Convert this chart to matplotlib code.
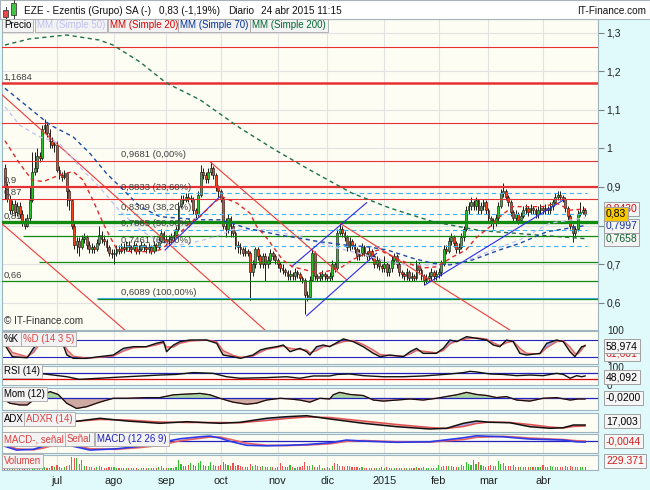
import numpy as np
import pandas as pd
import matplotlib
matplotlib.use('Agg')
import matplotlib.pyplot as plt
from matplotlib.patches import Rectangle
from matplotlib.transforms import blended_transform_factory

plt.rcParams['font.family'] = ['Liberation Sans', 'DejaVu Sans']

W, H = 650, 490

# ---------------- datos ----------------
dates = pd.bdate_range('2014-06-02', '2015-04-24')
month_lbl = ['jul', 'ago', 'sep', 'oct', 'nov', 'dic', '2015', 'feb', 'mar', 'abr']

close_jun = [0.90, 0.87, 0.84, 0.855, 0.835, 0.85, 0.83, 0.81, 0.80, 0.82, 0.865, 0.94, 0.95, 0.98, 0.975, 1.05, 1.06, 1.04, 1.02, 1.01, 1.01]
close_jul = [0.945, 0.93, 0.925, 0.935, 0.89, 0.865, 0.80, 0.75, 0.76, 0.745, 0.765, 0.77, 0.75, 0.74, 0.745, 0.74, 0.755, 0.775, 0.765, 0.76, 0.745, 0.73, 0.725]
close_ago = [0.73, 0.74, 0.735, 0.745, 0.74, 0.75, 0.745, 0.74, 0.75, 0.735, 0.74, 0.75, 0.745, 0.74, 0.745, 0.735, 0.75, 0.745, 0.76, 0.78, 0.765]
close_sep = [0.76, 0.765, 0.77, 0.775, 0.79, 0.85, 0.87, 0.865, 0.875, 0.87, 0.87, 0.84, 0.83, 0.88, 0.94, 0.93, 0.92, 0.94, 0.95, 0.93, 0.90, 0.89]
close_oct = [0.87, 0.80, 0.79, 0.82, 0.80, 0.78, 0.75, 0.745, 0.74, 0.73, 0.735, 0.73, 0.68, 0.70, 0.74, 0.72, 0.70, 0.72, 0.70, 0.71, 0.73, 0.72, 0.71]
close_nov = [0.70, 0.69, 0.685, 0.68, 0.67, 0.675, 0.67, 0.68, 0.675, 0.665, 0.66, 0.62, 0.615, 0.66, 0.73, 0.67, 0.665, 0.67, 0.675, 0.67]
close_dic = [0.665, 0.67, 0.70, 0.69, 0.78, 0.79, 0.78, 0.77, 0.745, 0.76, 0.75, 0.74, 0.72, 0.73, 0.745, 0.73, 0.72, 0.735, 0.72, 0.70, 0.71, 0.695, 0.69]
close_ene = [0.70, 0.68, 0.69, 0.71, 0.72, 0.70, 0.68, 0.675, 0.67, 0.68, 0.665, 0.67, 0.665, 0.70, 0.685, 0.67, 0.66, 0.665, 0.67, 0.68, 0.67, 0.675]
close_feb = [0.68, 0.70, 0.74, 0.735, 0.76, 0.77, 0.755, 0.74, 0.745, 0.77, 0.79, 0.84, 0.85, 0.86, 0.85, 0.865, 0.84, 0.85, 0.86, 0.84]
close_mar = [0.82, 0.815, 0.81, 0.82, 0.85, 0.885, 0.89, 0.875, 0.86, 0.835, 0.82, 0.83, 0.815, 0.825, 0.84, 0.845, 0.835, 0.845, 0.84, 0.83, 0.84, 0.845]
close_abr = [0.84, 0.845, 0.84, 0.85, 0.86, 0.875, 0.88, 0.875, 0.87, 0.845, 0.825, 0.80, 0.78, 0.79, 0.83, 0.835, 0.84, 0.83]
first_open = 0.95

hi_jun = [0.96, 0.91, 0.88, 0.865, 0.865, 0.86, 0.86, 0.84, 0.82, 0.83, 0.90, 0.99, 0.99, 1.00, 0.99, 1.06, 1.075, 1.065, 1.05, 1.03, 1.02]
lo_jun = [0.87, 0.86, 0.83, 0.83, 0.825, 0.825, 0.82, 0.80, 0.79, 0.795, 0.81, 0.86, 0.93, 0.94, 0.965, 0.97, 1.04, 1.03, 1.00, 1.00, 0.99]
hi_jul = [1.02, 0.955, 0.94, 0.945, 0.94, 0.895, 0.87, 0.81, 0.77, 0.77, 0.775, 0.78, 0.775, 0.76, 0.755, 0.75, 0.765, 0.80, 0.785, 0.775, 0.765, 0.75, 0.74]
lo_jul = [0.94, 0.92, 0.915, 0.92, 0.85, 0.84, 0.79, 0.74, 0.73, 0.72, 0.74, 0.755, 0.74, 0.73, 0.73, 0.73, 0.735, 0.75, 0.755, 0.75, 0.735, 0.72, 0.715]
hi_ago = [0.74, 0.75, 0.75, 0.755, 0.755, 0.76, 0.76, 0.75, 0.76, 0.755, 0.75, 0.76, 0.755, 0.75, 0.755, 0.75, 0.76, 0.755, 0.77, 0.79, 0.785]
lo_ago = [0.70, 0.72, 0.725, 0.73, 0.73, 0.735, 0.735, 0.73, 0.735, 0.725, 0.725, 0.735, 0.735, 0.73, 0.73, 0.725, 0.73, 0.735, 0.74, 0.755, 0.755]
hi_sep = [0.775, 0.775, 0.78, 0.785, 0.80, 0.86, 0.88, 0.88, 0.885, 0.885, 0.88, 0.875, 0.845, 0.89, 0.957, 0.95, 0.94, 0.95, 0.965, 0.955, 0.935, 0.905]
lo_sep = [0.75, 0.75, 0.755, 0.76, 0.77, 0.785, 0.845, 0.855, 0.86, 0.86, 0.86, 0.83, 0.82, 0.825, 0.875, 0.92, 0.91, 0.91, 0.93, 0.92, 0.89, 0.875]
hi_oct = [0.895, 0.875, 0.82, 0.83, 0.825, 0.81, 0.785, 0.76, 0.755, 0.745, 0.745, 0.74, 0.735, 0.71, 0.745, 0.745, 0.725, 0.73, 0.73, 0.72, 0.74, 0.735, 0.725]
lo_oct = [0.86, 0.79, 0.77, 0.78, 0.77, 0.77, 0.74, 0.73, 0.725, 0.72, 0.72, 0.72, 0.607, 0.67, 0.69, 0.71, 0.69, 0.69, 0.655, 0.69, 0.70, 0.71, 0.70]
hi_nov = [0.715, 0.705, 0.70, 0.69, 0.685, 0.685, 0.68, 0.69, 0.685, 0.68, 0.67, 0.665, 0.63, 0.67, 0.74, 0.735, 0.675, 0.68, 0.685, 0.68]
lo_nov = [0.69, 0.68, 0.675, 0.67, 0.66, 0.66, 0.66, 0.66, 0.665, 0.655, 0.65, 0.57, 0.605, 0.61, 0.655, 0.66, 0.655, 0.655, 0.66, 0.66]
hi_dic = [0.675, 0.68, 0.71, 0.705, 0.79, 0.806, 0.80, 0.785, 0.775, 0.77, 0.765, 0.755, 0.745, 0.74, 0.755, 0.75, 0.735, 0.745, 0.74, 0.725, 0.72, 0.715, 0.70]
lo_dic = [0.655, 0.655, 0.66, 0.68, 0.685, 0.775, 0.77, 0.76, 0.735, 0.735, 0.74, 0.73, 0.71, 0.71, 0.72, 0.72, 0.71, 0.71, 0.71, 0.69, 0.69, 0.685, 0.68]
hi_ene = [0.72, 0.705, 0.70, 0.72, 0.73, 0.725, 0.705, 0.685, 0.68, 0.69, 0.685, 0.68, 0.675, 0.71, 0.705, 0.69, 0.675, 0.675, 0.68, 0.69, 0.685, 0.685]
lo_ene = [0.68, 0.67, 0.67, 0.68, 0.70, 0.69, 0.67, 0.665, 0.66, 0.66, 0.655, 0.655, 0.655, 0.66, 0.675, 0.66, 0.646, 0.65, 0.655, 0.66, 0.66, 0.66]
hi_feb = [0.69, 0.71, 0.75, 0.75, 0.77, 0.78, 0.775, 0.76, 0.755, 0.78, 0.80, 0.85, 0.86, 0.875, 0.865, 0.875, 0.87, 0.86, 0.87, 0.865]
lo_feb = [0.665, 0.67, 0.695, 0.725, 0.73, 0.75, 0.745, 0.73, 0.73, 0.74, 0.76, 0.785, 0.83, 0.84, 0.84, 0.84, 0.83, 0.83, 0.84, 0.83]
hi_mar = [0.845, 0.825, 0.82, 0.83, 0.86, 0.895, 0.91, 0.895, 0.88, 0.865, 0.84, 0.84, 0.835, 0.835, 0.85, 0.855, 0.85, 0.855, 0.85, 0.845, 0.85, 0.855]
lo_mar = [0.81, 0.80, 0.79, 0.80, 0.81, 0.845, 0.875, 0.865, 0.85, 0.825, 0.81, 0.81, 0.805, 0.81, 0.82, 0.83, 0.825, 0.83, 0.83, 0.82, 0.82, 0.83]
hi_abr = [0.85, 0.855, 0.85, 0.86, 0.87, 0.885, 0.89, 0.89, 0.88, 0.875, 0.85, 0.83, 0.805, 0.80, 0.84, 0.86, 0.85, 0.845]
lo_abr = [0.83, 0.83, 0.83, 0.83, 0.84, 0.855, 0.865, 0.865, 0.86, 0.835, 0.815, 0.79, 0.758, 0.77, 0.785, 0.825, 0.83, 0.825]

# volumen (miles de acciones)
vol_jun = [180, 150, 120, 140, 100, 130, 110, 160, 140, 120, 260, 380, 250, 200, 280, 220, 260, 180, 160, 300, 200]
vol_jul = [420, 220, 180, 200, 350, 380, 1150, 1050, 980, 500, 830, 350, 300, 260, 200, 180, 220, 300, 200, 180, 160, 220, 200]
vol_ago = [250, 160, 130, 120, 150, 110, 100, 130, 120, 100, 90, 140, 110, 100, 120, 130, 150, 120, 200, 300, 180]
vol_sep = [150, 160, 140, 180, 260, 840, 500, 300, 350, 420, 560, 380, 320, 600, 780, 400, 300, 350, 650, 400, 350, 300]
vol_oct = [420, 700, 450, 380, 300, 550, 350, 420, 300, 250, 200, 230, 500, 350, 400, 300, 250, 280, 200, 220, 260, 200, 180]
vol_nov = [250, 560, 300, 220, 260, 400, 200, 180, 220, 250, 300, 700, 350, 300, 420, 250, 200, 420, 180, 160]
vol_dic = [200, 180, 300, 560, 450, 330, 300, 250, 280, 330, 250, 200, 220, 180, 200, 160, 150, 170, 140, 150, 130, 120, 200]
vol_ene = [180, 200, 150, 170, 160, 180, 150, 140, 130, 150, 160, 140, 150, 200, 170, 160, 200, 150, 140, 130, 150, 160]
vol_feb = [380, 250, 300, 280, 350, 300, 250, 220, 260, 420, 350, 700, 500, 400, 840, 450, 700, 380, 300, 250]
vol_mar = [300, 420, 280, 300, 780, 500, 540, 350, 300, 280, 380, 250, 220, 200, 250, 230, 200, 220, 190, 200, 210, 230]
vol_abr = [380, 250, 200, 330, 250, 240, 260, 230, 250, 300, 260, 280, 250, 250, 230, 220, 200, 229]

# medias moviles (muestras leidas: indice de sesion, valor)
sma20_idx = [0, 6, 11, 15.5, 22, 27.5, 31.5, 35.5, 39.6, 42.4, 45, 50, 59, 62.5, 66.6, 70.6, 74.6, 78.7, 84, 87.5, 93.6, 98.8, 101.6, 105.7, 112, 116, 127, 132, 136, 140, 146, 151, 159, 164.6, 168.6, 174, 180.7, 186, 190, 195.6, 199.6, 204.9, 211.7, 217, 222.6, 227.9, 234]
sma20_val = [1.02, 0.96, 0.918, 0.914, 0.931, 0.94, 0.918, 0.866, 0.806, 0.771, 0.74, 0.733, 0.732, 0.737, 0.755, 0.78, 0.807, 0.823, 0.858, 0.875, 0.858, 0.832, 0.797, 0.767, 0.711, 0.693, 0.676, 0.685, 0.693, 0.711, 0.729, 0.737, 0.711, 0.698, 0.690, 0.693, 0.719, 0.737, 0.768, 0.797, 0.823, 0.849, 0.849, 0.849, 0.858, 0.840, 0.843]
sma50_idx = [0, 6, 14, 22, 30, 38, 46, 54.5, 62.5, 70.6, 78.7, 86.7, 92, 105.7, 119, 132, 143, 154, 162, 172.6, 183.5, 197, 207.7, 219.8, 234]
sma50_val = [1.108, 1.06, 1.03, 1.013, 0.953, 0.901, 0.84, 0.789, 0.757, 0.75, 0.76, 0.775, 0.79, 0.789, 0.771, 0.745, 0.728, 0.706, 0.698, 0.698, 0.702, 0.737, 0.763, 0.806, 0.82]
sma70_idx = [0, 18.2, 27.5, 34.3, 41, 46.4, 54.5, 62.5, 70.6, 78.7, 86.7, 92, 97.6, 111, 119, 127, 138, 146, 154, 164.6, 172.6, 179.5, 188.7, 199.6, 207.7, 218.6, 234]
sma70_val = [1.156, 1.061, 1.03, 0.987, 0.935, 0.901, 0.849, 0.823, 0.819, 0.815, 0.815, 0.805, 0.793, 0.775, 0.767, 0.758, 0.749, 0.745, 0.737, 0.715, 0.702, 0.698, 0.711, 0.737, 0.754, 0.784, 0.80]
sma200_idx = [0, 10, 25, 38, 43.6, 54.5, 65, 78.7, 94.8, 109, 123, 140, 155, 172.6, 191.6, 207.7, 223.8, 234]
sma200_val = [1.268, 1.284, 1.294, 1.281, 1.268, 1.224, 1.170, 1.126, 1.053, 0.996, 0.944, 0.884, 0.846, 0.810, 0.787, 0.779, 0.771, 0.766]

# niveles horizontales y lineas de tendencia
red_lvls = [1.262, 1.1684, 1.065, 0.9681, 0.90, 0.87]
red_lw = [0.8, 1.8, 0.8, 0.8, 1.6, 0.8]
green_lvls = [0.808, 0.773, 0.705, 0.655, 0.6089]
green_from = [-2, 7.3, 13.75, -2, 37.1]
green_lw = [2.4, 0.9, 0.9, 0.9, 0.9]
fib_lvls = [0.8833, 0.8309, 0.7885, 0.7461]
fib_lbl = ['0,9681 (0,00%)', '0,8833 (23,60%)', '0,8309 (38,20%)', '0,7885 (50,00%)', '0,7461 (61,80%)', '0,6089 (100,00%)']
fib_lbl_y = [0.9681, 0.8833, 0.8309, 0.7885, 0.7461, 0.6089]
lvl_lbl = ['1,1684', '0,9', '0,87', '0,81', '0,66']
lvl_lbl_y = [1.1684, 0.90, 0.87, 0.808, 0.655]
red_trend = [((-1.98, 1.1437), (104.9, 0.529)), ((-1.98, 0.809), (48.4, 0.529)),
             ((82.7, 0.9656), (137.9, 0.6589)), ((135.1, 0.806), (203.7, 0.529))]
blue_trend = [((64.6, 0.7366), (86.7, 0.8748)), ((115.6, 0.6933), (145.9, 0.8593)),
              ((121.7, 0.566), (149.9, 0.728)), ((169.4, 0.646), (225.2, 0.866))]

# estocastico %K / %D
stoch_idx = [0, 3, 9, 11.5, 14, 19.5, 23, 25, 27.6, 33, 38, 43.7, 47.8, 51.8, 57, 61, 64, 65.2, 68, 70.6, 74.6, 81.3, 85.4, 88, 92, 95, 100, 103, 105.5, 109.6, 112.3, 115, 119, 121.7, 123, 125.7, 128.4, 131, 136.5, 140.5, 144.5, 148.6, 151.3, 155.3, 160.7, 163.4, 166, 168.7, 174, 176.8, 179.5, 182.2, 186.2, 190.2, 194.3, 197, 199.6, 202.3, 205, 207.7, 210.4, 215.8, 218.5, 222.5, 225.2, 227.9, 229.9, 231.2, 232.6, 234]
stoch_k = [62, 20, 16, 50, 80, 86, 74, 26, 14, 14, 20, 26, 50, 56, 56, 68, 74, 38, 62, 74, 80, 80, 68, 26, 20, 14, 26, 44, 50, 56, 62, 38, 50, 38, 26, 56, 62, 56, 84, 74, 56, 32, 20, 26, 20, 38, 50, 32, 32, 50, 80, 74, 92, 86, 80, 62, 56, 80, 74, 32, 26, 32, 68, 80, 74, 38, 20, 38, 56, 59]
stoch_d = [70, 35, 20, 35, 65, 82, 80, 45, 22, 15, 18, 22, 40, 52, 55, 62, 70, 55, 55, 68, 76, 80, 74, 42, 25, 18, 22, 36, 46, 53, 58, 50, 46, 44, 34, 42, 56, 58, 74, 78, 64, 44, 28, 24, 22, 30, 42, 40, 34, 42, 66, 76, 84, 88, 83, 70, 60, 70, 76, 50, 32, 30, 52, 74, 77, 55, 32, 30, 45, 61.6]

rsi_idx = [0, 14, 25, 30, 38, 49, 62.5, 69, 76, 84, 89.4, 94.8, 105.5, 113.6, 119, 124.4, 131, 134, 139, 144.5, 152.6, 160.7, 168.7, 174, 179.5, 185, 187.6, 190.2, 195.6, 201, 206.4, 211.7, 217, 222.5, 225.2, 228, 230.6, 232.6, 234]
rsi_val = [55, 65, 43, 26, 33, 43, 54, 58, 70, 65, 43, 33, 37, 43, 33, 48, 48, 58, 61, 50, 43, 43, 48, 54, 61, 70, 78, 74, 61, 58, 50, 54, 50, 65, 58, 33, 50, 43, 48]

mom_idx = [0, 2, 6, 9, 11.5, 15.5, 18.2, 21.5, 24.9, 28.9, 33, 37, 39.7, 43.7, 49, 57, 62.5, 68, 73.3, 78.7, 82.7, 86.7, 92, 97.5, 101.5, 105.5, 111, 115, 119, 123, 127, 131, 132.4, 135, 139.2, 144.5, 148.6, 152.6, 158, 163.4, 168.7, 174, 178, 182.2, 186.2, 190.2, 194.3, 198.3, 202.3, 206.4, 211.7, 217, 222.5, 228, 231.2, 234]
mom_val = [-0.05, -0.14, -0.19, -0.19, -0.05, 0.10, 0.19, 0.11, -0.14, -0.29, -0.24, -0.14, -0.08, 0.0, 0.0, 0.02, 0.02, 0.10, 0.12, 0.14, 0.10, 0.0, -0.11, -0.17, -0.14, -0.05, 0.0, -0.02, -0.05, -0.11, 0.0, -0.02, 0.10, 0.17, 0.11, 0.08, -0.05, -0.08, -0.05, -0.02, -0.05, 0.0, 0.05, 0.10, 0.17, 0.11, 0.08, 0.02, 0.05, -0.05, -0.08, 0.0, 0.02, -0.05, -0.02, -0.02]

adx_idx = [0, 14, 27.6, 38.3, 49.1, 62.5, 73.3, 86.7, 94.8, 105.5, 113.6, 121.7, 131.1, 144.5, 158, 171.4, 178.1, 184.9, 190.2, 195.6, 203.6, 211.7, 219.8, 225.2, 229.3, 234]
adx_val = [21, 20, 20.3, 23.7, 21, 18.7, 20.3, 18.7, 19.7, 23.7, 25.3, 26.3, 23, 18.7, 15.3, 13, 13.7, 18.7, 21, 19.7, 19.3, 15.3, 13.7, 14.3, 17, 17]
adxr_val = [22, 21, 20.5, 22.5, 22, 20, 19.5, 19.5, 19.2, 21.5, 23.5, 25, 24.5, 21, 17.5, 14.5, 13.5, 15.5, 18.5, 20, 19.5, 17.5, 15, 14, 15.5, 16]

macd_idx = [0, 4.7, 11.5, 15.5, 20, 27.6, 34.3, 45, 54.5, 63.9, 65.2, 70.6, 78.7, 82.7, 86.7, 90.8, 97.5, 105.5, 113.6, 121.7, 131.1, 137.8, 144.5, 158, 171.4, 184.9, 190.2, 201, 211.7, 225.2, 230.6, 234]
macd_val = [-0.02, -0.035, -0.032, -0.02, -0.005, -0.02, -0.035, -0.03, -0.02, -0.01, 0.0, 0.01, 0.018, 0.021, 0.013, 0.0, -0.016, -0.018, -0.016, -0.013, -0.006, 0.005, 0.001, -0.004, -0.002, 0.014, 0.022, 0.018, 0.009, 0.005, -0.002, -0.003]
signal_val = [-0.015, -0.03, -0.034, -0.027, -0.015, -0.015, -0.03, -0.032, -0.025, -0.015, -0.01, 0.002, 0.012, 0.017, 0.017, 0.008, -0.008, -0.016, -0.017, -0.015, -0.01, 0.0, 0.003, -0.002, -0.003, 0.007, 0.016, 0.02, 0.013, 0.007, 0.002, 0.001]
hist_start = [0, 20, 65, 88, 109, 140, 173, 195, 231]
hist_end = [19, 64, 87, 108, 139, 172, 194, 230, 234]
hist_sign = [-1, 1, 1, -1, 1, -1, 1, -1, 1]

closes = np.array(close_jun + close_jul + close_ago + close_sep + close_oct + close_nov + close_dic + close_ene + close_feb + close_mar + close_abr)
highs = np.array(hi_jun + hi_jul + hi_ago + hi_sep + hi_oct + hi_nov + hi_dic + hi_ene + hi_feb + hi_mar + hi_abr)
lows = np.array(lo_jun + lo_jul + lo_ago + lo_sep + lo_oct + lo_nov + lo_dic + lo_ene + lo_feb + lo_mar + lo_abr)
volume = np.array(vol_jun + vol_jul + vol_ago + vol_sep + vol_oct + vol_nov + vol_dic + vol_ene + vol_feb + vol_mar + vol_abr)
opens = np.array([first_open] + list(closes[:-1]))
x = np.arange(len(dates))
month_idx = [i for i in range(1, len(dates)) if dates[i].month != dates[i - 1].month]


def px_rect(x0, y0, x1, y1):
    return [x0 / W, 1 - y1 / H, (x1 - x0) / W, (y1 - y0) / H]


def fpos(xp, yp):
    return xp / W, 1 - yp / H


fig = plt.figure(figsize=(W / 100, H / 100), dpi=100, facecolor='#e0fafc')
fig.patches.append(Rectangle((0, 1 - 19 / H), 1, 19 / H, transform=fig.transFigure,
                             fc='white', ec='#a8b4b8', lw=0.8, zorder=0))

specs = [('p', 19, 330), ('k', 331, 364), ('r', 366, 385), ('m', 388, 410),
         ('a', 413, 432), ('c', 434, 453), ('v', 455, 470)]
panels = {}
for name, y0, y1 in specs:
    ax = fig.add_axes(px_rect(2, y0, 598, y1))
    ax.set_facecolor('#fdfdf3')
    ax.set_xlim(-1.17, 239.2)
    ax.set_xticks(month_idx)
    ax.set_xticklabels([])
    ax.tick_params(axis='x', length=0)
    ax.set_yticks([])
    ax.grid(axis='x', color='#e2e2e2', lw=0.8)
    ax.set_axisbelow(True)
    for s in ax.spines.values():
        s.set_color('#9fb4be')
        s.set_linewidth(0.8)
    panels[name] = ax

# ---------------- precio ----------------
ax = panels['p']
ax.set_ylim(0.5292, 1.3355)
ax.set_yticks([0.6, 0.7, 0.8, 0.9, 1.0, 1.1, 1.2, 1.3])
# la etiqueta 0,8 queda tapada por las cajas de valores
ax.set_yticklabels(['0,6', '0,7', '', '0,9', '1', '1,1', '1,2', '1,3'])
ax.yaxis.tick_right()
ax.tick_params(axis='y', length=4, color='#808080', labelsize=7.5, pad=2, labelcolor='#202020')
ax.grid(axis='y', color='#e2e2e2', lw=0.8)

up = closes >= opens
ax.vlines(x, lows, highs, color='#1a1a1a', lw=0.7, zorder=3)
ax.bar(x, np.maximum(np.abs(closes - opens), 0.002), bottom=np.minimum(opens, closes), width=0.72,
       color=np.where(up, '#2ec12e', '#f4431c'), edgecolor='#1a1a1a', linewidth=0.45, zorder=4)

for lv, lw in zip(red_lvls, red_lw):
    ax.axhline(lv, color='#e63232', lw=lw, zorder=5)
for lv, x0, lw in zip(green_lvls, green_from, green_lw):
    ax.hlines(lv, x0, 240, color='#108a10', lw=lw, zorder=5)
ax.hlines(0.6089 + 0.0026, 37.1, 240, color='#40a8e8', lw=0.8, zorder=5)
for lv in fib_lvls:
    ax.hlines(lv, 45.6, 234.7, color='#38b4f4', lw=0.8, linestyles=(0, (4, 3)), zorder=5)

for (x0, y0), (x1, y1) in red_trend:
    ax.plot([x0, x1], [y0, y1], color='#f03a3a', lw=0.8, zorder=6)
for (x0, y0), (x1, y1) in blue_trend:
    ax.plot([x0, x1], [y0, y1], color='#2a2af0', lw=0.8, zorder=6)

ax.plot(sma50_idx, sma50_val, color='#c4c4f4', lw=1.0, ls=(0, (3, 2.5)), zorder=6)
ax.plot(sma200_idx, sma200_val, color='#1d7048', lw=1.0, ls=(0, (3, 2.5)), zorder=6)
ax.plot(sma70_idx, sma70_val, color='#1e4aa8', lw=1.0, ls=(0, (3, 2.5)), zorder=6)
ax.plot(sma20_idx, sma20_val, color='#e02828', lw=1.0, ls=(0, (3, 2.5)), zorder=6)

for s, yv in zip(fib_lbl, fib_lbl_y):
    ax.annotate(s, xy=(46.8, yv), xytext=(0, 1.3), textcoords='offset points',
                fontsize=6.8, color='#404040', va='bottom', ha='left', zorder=7)
for s, yv in zip(lvl_lbl, lvl_lbl_y):
    ax.annotate(s, xy=(-0.6, yv), xytext=(0, 1.3), textcoords='offset points',
                fontsize=6.8, color='#404040', va='bottom', ha='left', zorder=7)
ax.text(0.004, 0.012, '\u00a9 IT-Finance.com', transform=ax.transAxes, fontsize=7.2,
        color='#303030', va='bottom', ha='left', zorder=7)

tr = blended_transform_factory(ax.transAxes, ax.transData)
price_boxes = [(0.8430, '0,8430', '#d01010', '#f4f4f4'), (0.7658, '0,7658', '#106030', '#f4f4f4'),
               (0.7997, '0,7997', '#1030a0', '#f4f4f4'), (0.83, '0,83', '#000000', '#f8c800')]
for k, (yv, s, c, fc) in enumerate(price_boxes):
    ax.text(1.0125, yv, s, transform=tr, fontsize=7.5, color=c, va='center', ha='left',
            clip_on=False, zorder=10 + k,
            bbox=dict(boxstyle='square,pad=0.18', fc=fc, ec='#a0a0a0', lw=0.7))

# ---------------- estocastico ----------------
ax = panels['k']
ax.set_ylim(-6.2, 112.3)
k_arr, d_arr = np.array(stoch_k), np.array(stoch_d)
ax.fill_between(stoch_idx, k_arr, d_arr, where=k_arr >= d_arr, interpolate=True, color='#a8a8e6', lw=0)
ax.fill_between(stoch_idx, k_arr, d_arr, where=k_arr < d_arr, interpolate=True, color='#f2b8b4', lw=0)
ax.axhline(80, color='#2222c0', lw=0.8)
ax.axhline(20, color='#2222c0', lw=0.8)
ax.plot(stoch_idx, d_arr, color='#e06060', lw=1.0)
ax.plot(stoch_idx, k_arr, color='#111111', lw=1.0)

# ---------------- RSI ----------------
ax = panels['r']
ax.set_ylim(-11, 113)
ax.axhline(70, color='#2222c0', lw=0.9)
ax.axhline(30, color='#e00000', lw=0.9)
ax.plot(rsi_idx, rsi_val, color='#111111', lw=1.0)

# ---------------- Momentum ----------------
ax = panels['m']
ax.set_ylim(-0.334, 0.294)
m_arr = np.array(mom_val)
ax.fill_between(mom_idx, m_arr, 0, where=m_arr >= 0, interpolate=True, color='#a9d3a0', lw=0)
ax.fill_between(mom_idx, m_arr, 0, where=m_arr < 0, interpolate=True, color='#cfaaa2', lw=0)
ax.axhline(0, color='#2222c0', lw=0.9)
ax.plot(mom_idx, m_arr, color='#e06060', lw=0.8)
ax.plot(mom_idx, m_arr, color='#111111', lw=0.9)

# ---------------- ADX ----------------
ax = panels['a']
ax.set_ylim(10, 29)
a_arr, ar_arr = np.array(adx_val), np.array(adxr_val)
ax.fill_between(adx_idx, a_arr, ar_arr, where=a_arr >= ar_arr, interpolate=True, color='#a8a8e6', lw=0)
ax.fill_between(adx_idx, a_arr, ar_arr, where=a_arr < ar_arr, interpolate=True, color='#f2b8b4', lw=0)
ax.plot(adx_idx, ar_arr, color='#e05050', lw=1.1)
ax.plot(adx_idx, a_arr, color='#111111', lw=1.1)

# ---------------- MACD ----------------
ax = panels['c']
ax.set_ylim(-0.0468, 0.0292)
ax.axhline(0, color='#2222c0', lw=0.9)
for s0, s1, sg in zip(hist_start, hist_end, hist_sign):
    xs = np.arange(s0, s1 + 1)
    ax.bar(xs, np.full(len(xs), 0.0016 * sg), width=0.45,
           color='#30b030' if sg > 0 else '#f04848', lw=0)
ax.plot(macd_idx, signal_val, color='#e86060', lw=1.2)
ax.plot(macd_idx, macd_val, color='#2a3ae8', lw=1.2)

# ---------------- Volumen ----------------
ax = panels['v']
ax.set_ylim(-40, 1290)
ax.bar(x, volume, width=0.45, color=np.where(up, '#33c033', '#f05050'), lw=0)
ax.set_xticklabels(month_lbl)
ax.tick_params(axis='x', labelbottom=True, labelsize=7.8, pad=4, labelcolor='#202020')

# ---------------- cajas de texto ----------------
def label_box(xp, yp, s, color, size=7):
    fx, fy = fpos(xp, yp)
    fig.text(fx, fy, s, fontsize=size, color=color, va='center', ha='left', zorder=20,
             bbox=dict(boxstyle='square,pad=0.2', fc='#f3f3f3', ec='#a8a8a8', lw=0.6))

legend_items = [('Precio', '#000000', 4), ('MM (Simple 50)', '#c0c0f2', 37),
                ('MM (Simple 20)', '#dd0000', 110), ('MM (Simple 70)', '#0030a0', 180),
                ('MM (Simple 200)', '#006633', 252)]
for s, c, xp in legend_items:
    label_box(xp, 25.5, s, c)

ind_labels = [('%K', '#000000', 4, 339), ('%D (14 3 5)', '#e04040', 23, 339),
              ('RSI (14)', '#000000', 4, 371), ('Mom (12)', '#000000', 4, 394),
              ('ADX', '#000000', 4, 419), ('ADXR (14)', '#e04040', 26, 419),
              ('MACD-, se\u00f1al', '#e04040', 4, 439), ('Se\u00f1al', '#e04040', 67, 439),
              ('MACD (12 26 9)', '#2020c0', 97, 439), ('Volumen', '#e04040', 4, 461)]
for s, c, xp, yp in ind_labels:
    label_box(xp, yp, s, c, size=6.9)

for s, yp in [('100', 331.5), ('0', 359.5), ('100', 368), ('0', 385.5)]:
    fx, fy = fpos(607, yp)
    fig.text(fx, fy, s, fontsize=7.2, color='#202020', va='center', ha='left', zorder=19)

right_boxes = [('61,601', '#d02020', 354), ('58,974', '#000000', 346), ('48,092', '#000000', 377),
               ('-0,0200', '#000000', 398), ('17,003', '#000000', 421),
               ('-0,0044', '#d02020', 441), ('229.371', '#d02020', 461)]
for s, c, yp in right_boxes:
    fx, fy = fpos(606, yp)
    fig.text(fx, fy, s, fontsize=7.5, color=c, va='center', ha='left', zorder=21,
             bbox=dict(boxstyle='square,pad=0.18', fc='#f6f6f6', ec='#a0a0a0', lw=0.7))

# ---------------- cabecera ----------------
hy = 10.5
for s, xp, ha in [('EZE - Ezentis (Grupo) SA (-)', 24, 'left'), ('0,83 (-1,19%)', 159, 'left'),
                  ('Diario', 228, 'left'), ('24 abr 2015 11:15', 261, 'left'),
                  ('IT-Finance.com', 646, 'right')]:
    fx, fy = fpos(xp, hy)
    fig.text(fx, fy, s, fontsize=7.2, color='#111111', va='center', ha=ha)

# icono de velas
for (cx0, cy0, cx1, cy1, wy0, wy1, fc) in [(3, 10, 8, 17, 7, 19, '#e84848'), (11, 3, 16, 15, 0, 18, '#44c444')]:
    fx0, fy1 = fpos(cx0, cy1)
    fig.patches.append(Rectangle((fx0, fy1), (cx1 - cx0) / W, (cy1 - cy0) / H, transform=fig.transFigure,
                                 fc=fc, ec='#404040', lw=0.6, zorder=3))
    wx = (cx0 + cx1) / 2
    fig.lines.append(plt.Line2D([wx / W, wx / W], [1 - wy0 / H, 1 - wy1 / H], transform=fig.transFigure,
                                color='#404040', lw=0.7, zorder=2))

fig.savefig('out.png', dpi=100, facecolor=fig.get_facecolor())
